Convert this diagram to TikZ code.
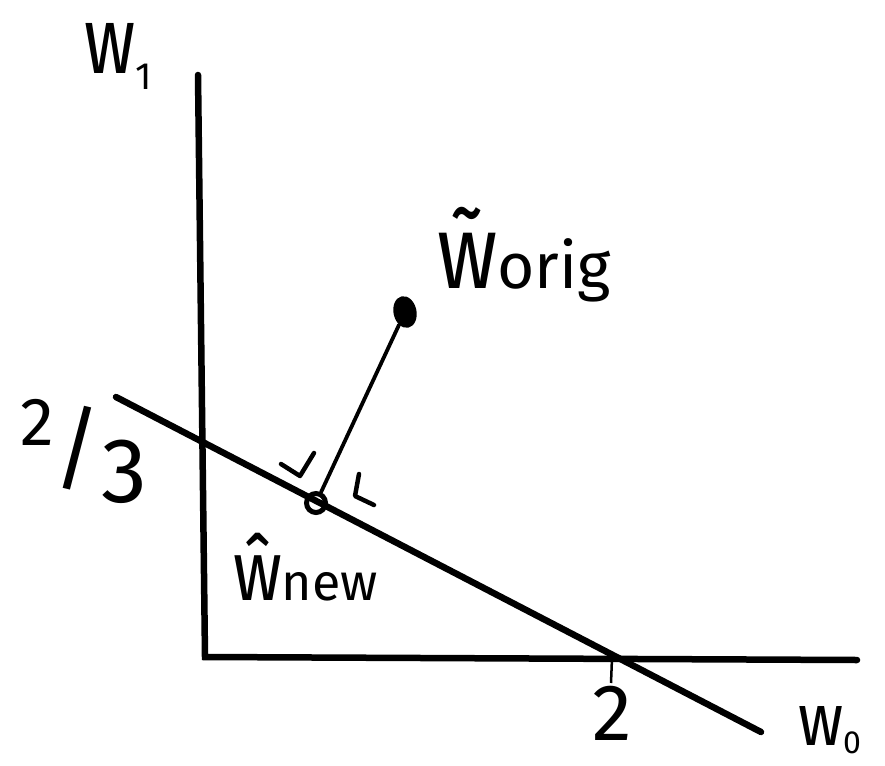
\documentclass[tikz,border=0pt]{standalone}
\usepackage{fontspec}
\setmainfont{Fira Sans}
\usetikzlibrary{shapes.geometric}
\begin{document}
\begin{tikzpicture}[x=1pt,y=-1pt,
  axisline/.style={line width=6.5pt,line cap=round},
  sepline/.style={line width=6.5pt,line cap=round},
  projline/.style={line width=3.8pt,line cap=round},
  perpmark/.style={line width=4.5pt,line cap=round,line join=round},
  lbl/.style={anchor=base west,inner sep=0pt,outer sep=0pt}]
\useasboundingbox (0,0) rectangle (885,765);
\fill[white] (0,0) rectangle (885,765);
% axes
\coordinate (ytop) at (198,75);
\coordinate (origin) at (205,657);
\coordinate (xend) at (857,660);
\draw[axisline] (ytop) -- (origin) -- (xend);
% separating line
\coordinate (sa) at (116,397);
\coordinate (sb) at (761,732);
\draw[sepline] (sa) -- (sb);
% tick at 2
\coordinate (t1) at (612,658);
\coordinate (t2) at (611,683);
\draw[line width=2.5pt] (t1) -- (t2);
% points
\node[ellipse,fill=black,minimum width=23pt,minimum height=32pt,inner sep=0pt,rotate=12] (wo) at (405,312) {};
\node[circle,draw=black,line width=5pt,minimum size=19pt,inner sep=0pt] (wn) at (316,503) {};
\draw[projline] (wo) -- (wn);
% right-angle marks
\draw[perpmark] (281,464) -- (300,476) -- (314,453);
\draw[perpmark] (359,474) -- (355,496) -- (374,505);
% labels
\node[lbl] (lw1) at (84,74) {\scalebox{0.75}[1]{\fontsize{95}{95}\selectfont w}\raisebox{-16pt}{\fontsize{38}{38}\selectfont 1}};
\node[lbl] (l23) at (20,502) {\fontsize{68}{68}\selectfont\raisebox{57pt}{2}\fontsize{92}{92}\selectfont\raisebox{22pt}{/}3};
\node[lbl] (l2) at (592,740) {\fontsize{80}{80}\selectfont 2};
\node[lbl] (lw0) at (798,745) {\scalebox{0.85}[1]{\fontsize{74}{74}\selectfont w}\raisebox{-8pt}{\fontsize{32}{32}\selectfont 0}};
\node[lbl] (lorig) at (437,288) {\scalebox{0.8}[1]{\fontsize{105}{105}\selectfont\~{w}}\fontsize{64}{64}\selectfont orig};
\node[lbl] (lnew) at (233,600) {\scalebox{0.8}[1]{\fontsize{85}{85}\selectfont\^{w}}\fontsize{52}{52}\selectfont new};
\end{tikzpicture}
\end{document}
